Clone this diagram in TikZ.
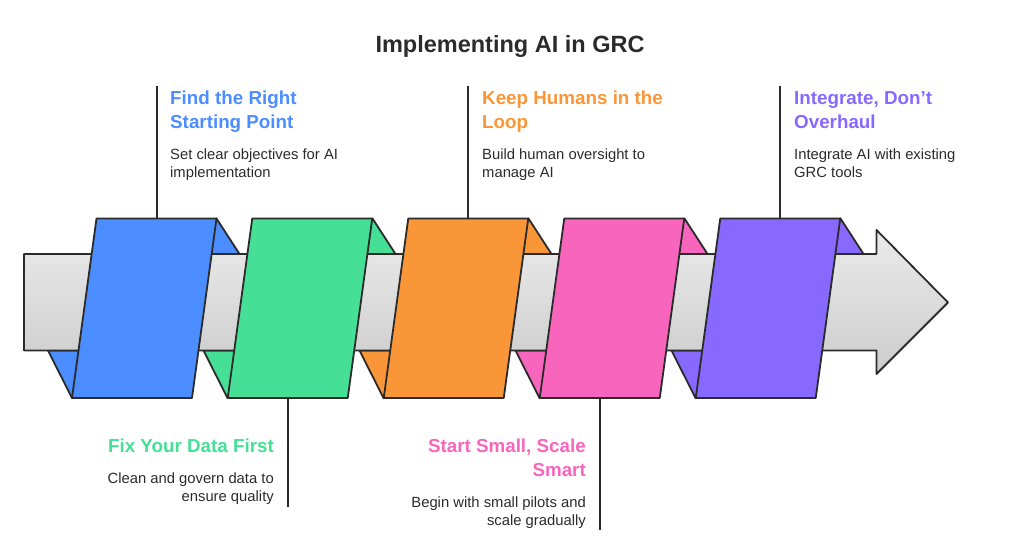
\documentclass[tikz,border=0pt]{standalone}
\usepackage{fontspec}
\setmainfont{Liberation Sans}
\definecolor{inkdark}{HTML}{2B2B2B}
\definecolor{stepblue}{HTML}{4C8DFF}
\definecolor{stepgreen}{HTML}{45DF95}
\definecolor{steporange}{HTML}{F99637}
\definecolor{steppink}{HTML}{F766BC}
\definecolor{steppurple}{HTML}{8769FF}
\begin{document}
\begin{tikzpicture}[
		x=1pt, y=-1pt,
		% Stile per le bande colorate e le loro alette
		band style/.style={rectangle, xslant=0.1365, minimum width=120pt, minimum height=179.5pt, inner sep=0pt, outer sep=0pt, draw=inkdark, line width=1.8pt, line join=round},
		ear style/.style={draw=inkdark, line width=1.8pt, line join=round},
		% Stile per le linee verticali
		edge style/.style={draw=inkdark, line width=2pt},
		% Stile per i testi
		title style/.style={inner sep=0pt, text=inkdark, font=\fontsize{23.5}{29}\selectfont\bfseries},
		head style/.style={inner sep=0pt, font=\fontsize{18.8}{24}\selectfont\bfseries},
		note style/.style={inner sep=0pt, text=inkdark, font=\fontsize{14.8}{18}\selectfont}
	]

	\useasboundingbox (0, 0) rectangle (1020, 557);

	% =================================
	% TITOLO
	% =================================
	\node[title style] (title) at (510, 46) {Implementing AI in GRC};

	% =================================
	% ALETTE (Dietro la freccia)
	% =================================
	\draw[ear style, fill=stepblue] (216.5, 218.5) -- (239.5, 254) -- (205, 254) -- cycle;
	\draw[ear style, fill=stepblue] (48, 350.5) -- (72, 398) -- (85, 350.5) -- cycle;
	\draw[ear style, fill=stepgreen] (372.5, 218.5) -- (395.5, 254) -- (361, 254) -- cycle;
	\draw[ear style, fill=stepgreen] (203.5, 350.5) -- (227.5, 398) -- (241, 350.5) -- cycle;
	\draw[ear style, fill=steporange] (528.5, 218.5) -- (551.5, 254) -- (517, 254) -- cycle;
	\draw[ear style, fill=steporange] (359.5, 350.5) -- (383.5, 398) -- (397, 350.5) -- cycle;
	\draw[ear style, fill=steppink] (684.5, 218.5) -- (707.5, 254) -- (673, 254) -- cycle;
	\draw[ear style, fill=steppink] (515.5, 350.5) -- (539.5, 398) -- (553, 350.5) -- cycle;
	\draw[ear style, fill=steppurple] (840.5, 218.5) -- (863.5, 254) -- (829, 254) -- cycle;
	\draw[ear style, fill=steppurple] (671.5, 350.5) -- (695.5, 398) -- (709, 350.5) -- cycle;

	% =================================
	% FRECCIA
	% =================================
	\shade[ear style, top color=black!8, bottom color=black!20] (24, 254) -- (876.5, 254) -- (876.5, 230) -- (948, 302.5) -- (876.5, 374) -- (876.5, 350.5) -- (24, 350.5) -- cycle;

	% =================================
	% BANDE
	% =================================
	\node[band style, fill=stepblue] (b1) at (144.25, 308.25) {};
	\node[band style, fill=stepgreen] (b2) at (300, 308.25) {};
	\node[band style, fill=steporange] (b3) at (456, 308.25) {};
	\node[band style, fill=steppink] (b4) at (612, 308.25) {};
	\node[band style, fill=steppurple] (b5) at (768, 308.25) {};

	% =================================
	% ESTREMI DELLE LINEE
	% =================================
	\coordinate (e1) at (156, 86);
	\coordinate (e2) at (288, 507);
	\coordinate (e3) at (468, 86);
	\coordinate (e4) at (600, 530);
	\coordinate (e5) at (780, 86);

	\draw[edge style] (b1.north) -- (b1.north |- e1);
	\draw[edge style] (b2.south) -- (b2.south |- e2);
	\draw[edge style] (b3.north) -- (b3.north |- e3);
	\draw[edge style] (b4.south) -- (b4.south |- e4);
	\draw[edge style] (b5.north) -- (b5.north |- e5);

	% =================================
	% TESTI IN ALTO
	% =================================
	\node[head style, text=stepblue, anchor=north west, align=left] (h1) at (170, 91) {Find the Right\\Starting Point};
	\node[note style, anchor=north west, align=left] (n1) at (170, 149) {Set clear objectives for AI\\implementation};
	\node[head style, text=steporange, anchor=north west, align=left] (h3) at (482, 91) {Keep Humans in the\\Loop};
	\node[note style, anchor=north west, align=left] (n3) at (482, 149) {Build human oversight to\\manage AI};
	\node[head style, text=steppurple, anchor=north west, align=left] (h5) at (794, 91) {Integrate, Don’t\\Overhaul};
	\node[note style, anchor=north west, align=left] (n5) at (794, 149) {Integrate AI with existing\\GRC tools};

	% =================================
	% TESTI IN BASSO
	% =================================
	\node[head style, text=stepgreen, anchor=north east, align=right] (h2) at (274, 439) {Fix Your Data First};
	\node[note style, anchor=north east, align=right] (n2) at (274, 473) {Clean and govern data to\\ensure quality};
	\node[head style, text=steppink, anchor=north east, align=right] (h4) at (586, 439) {Start Small, Scale\\Smart};
	\node[note style, anchor=north east, align=right] (n4) at (586, 497) {Begin with small pilots and\\scale gradually};

\end{tikzpicture}
\end{document}
